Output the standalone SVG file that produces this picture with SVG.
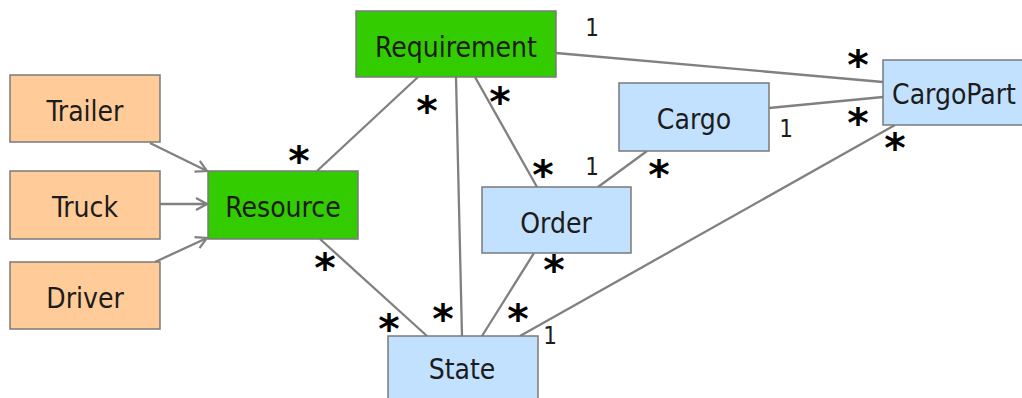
<svg xmlns="http://www.w3.org/2000/svg" width="1022" height="398" viewBox="0 0 1022 398">
<style>
.box{stroke:#7a7a7a;stroke-width:1.5}
.o{fill:#FFCC99}
.g{fill:#33CC00}
.b{fill:#C2E1FF}
.t{font-family:"DejaVu Sans Condensed","DejaVu Sans",sans-serif;font-stretch:condensed;font-size:28px;fill:#1c1c1c;text-anchor:middle}
.c{stroke:#808080;stroke-width:2.3;fill:none}
.s{font-family:"DejaVu Sans",sans-serif;font-weight:bold;font-size:41px;fill:#000;text-anchor:middle}
.n{font-family:"DejaVu Sans Condensed","DejaVu Sans",sans-serif;font-stretch:condensed;font-size:24px;fill:#1c1c1c;text-anchor:middle}
</style>
<defs>
<marker id="arr" markerWidth="14" markerHeight="14" refX="12" refY="7" orient="auto" markerUnits="userSpaceOnUse">
<path d="M1,1 L12,7 L1,13" fill="none" stroke="#808080" stroke-width="2.2"/>
</marker>
</defs>
<rect width="1022" height="398" fill="#fff"/>
<g id="connectors">
<line class="c" x1="150" y1="143" x2="207" y2="171" marker-end="url(#arr)"/>
<line class="c" x1="160" y1="204" x2="207" y2="204" marker-end="url(#arr)"/>
<line class="c" x1="155" y1="262" x2="207" y2="238" marker-end="url(#arr)"/>
<line class="c" x1="317" y1="171" x2="418" y2="77"/>
<line class="c" x1="456" y1="77" x2="462" y2="336"/>
<line class="c" x1="475" y1="77" x2="537" y2="187"/>
<line class="c" x1="556" y1="53" x2="883" y2="82"/>
<line class="c" x1="769" y1="108" x2="883" y2="97"/>
<line class="c" x1="647" y1="151" x2="598" y2="187"/>
<line class="c" x1="895" y1="125" x2="520" y2="336"/>
<line class="c" x1="320" y1="239" x2="427" y2="336"/>
<line class="c" x1="534" y1="253" x2="482" y2="336"/>
</g>
<g id="labels">
<text class="n" x="592" y="36">1</text>
<text class="s" x="858" y="79">*</text>
<text class="s" x="858" y="137">*</text>
<text class="s" x="895" y="162">*</text>
<text class="n" x="786" y="137">1</text>
<text class="s" x="659" y="189">*</text>
<text class="n" x="592" y="175">1</text>
<text class="s" x="500" y="116">*</text>
<text class="s" x="543" y="189">*</text>
<text class="s" x="427" y="125">*</text>
<text class="s" x="299" y="175">*</text>
<text class="s" x="325" y="282">*</text>
<text class="s" x="389" y="343">*</text>
<text class="s" x="443" y="333">*</text>
<text class="s" x="554" y="284">*</text>
<text class="s" x="518" y="333">*</text>
<text class="n" x="550" y="344">1</text>
</g>
<g id="trailer"><rect class="box o" x="10" y="75" width="150" height="67"/><text class="t" x="85" y="121">Trailer</text></g>
<g id="truck"><rect class="box o" x="10" y="171" width="150" height="68"/><text class="t" x="85" y="217">Truck</text></g>
<g id="driver"><rect class="box o" x="10" y="262" width="150" height="67"/><text class="t" x="85" y="308">Driver</text></g>
<g id="resource"><rect class="box g" x="208" y="171" width="150" height="68"/><text class="t" x="283" y="217">Resource</text></g>
<g id="requirement"><rect class="box g" x="356" y="11" width="200" height="66"/><text class="t" x="456" y="57">Requirement</text></g>
<g id="cargo"><rect class="box b" x="619" y="83" width="150" height="68"/><text class="t" x="694" y="129">Cargo</text></g>
<g id="cargopart"><rect class="box b" x="883" y="60" width="140" height="65"/><text class="t" x="954" y="104">CargoPart</text></g>
<g id="order"><rect class="box b" x="482" y="187" width="149" height="66"/><text class="t" x="556" y="233">Order</text></g>
<g id="state"><rect class="box b" x="388" y="336" width="150" height="80"/><text class="t" x="462" y="379">State</text></g>
</svg>
